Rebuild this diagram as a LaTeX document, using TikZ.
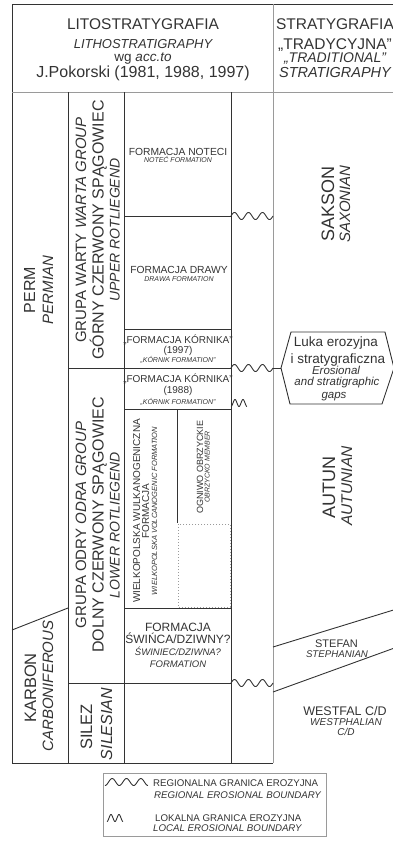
\documentclass[tikz,border=0pt]{standalone}
\usepackage{fontspec}
\setmainfont{Liberation Sans}
\definecolor{ink}{HTML}{333333}
\definecolor{lgray}{HTML}{9A9A9A}
\newcommand\fz[1]{\fontsize{#1}{#1}\selectfont}
\tikzset{
  tx/.style={inner sep=0pt, anchor=base, text=ink},
  rt/.style={tx, rotate=90},
  frame/.style={draw=ink, line width=0.9pt},
  thin/.style={draw=lgray, line width=0.9pt},
  wave/.style={draw=ink, line width=0.9pt},
  dotbox/.style={draw=lgray, line width=1pt, dotted},
}
\begin{document}
\begin{tikzpicture}[x=1pt,y=-1pt]
\useasboundingbox (0,0) rectangle (393,841);
% ---------- frame ----------
\draw[frame] (12,763) -- (12,4) -- (400,4);
\draw[thin] (12,92) -- (400,92);
\draw[thin] (273,4) -- (273,763);
\draw[frame] (68,92) -- (68,763);
\draw[frame] (124,92) -- (124,763);
\draw[frame] (231,92) -- (231,763);
\draw[frame] (12,763) -- (273,763);
% column 3 divisions
\draw[frame] (124,216) -- (231,216);
\draw[frame] (124,329) -- (231,329);
\draw[frame] (68,368) -- (231,368);
\draw[frame] (124,409) -- (231,409);
\draw[frame] (177,409) -- (177,523);
\draw[frame] (124,608) -- (231,608);
\draw[frame] (68,683) -- (231,683);
\draw[dotbox] (178,524) rectangle (230,607);
% period boundary
\draw[frame] (12,630) -- (68,608);
% stefan band
\draw[frame] (273,647) -- (400,608);
\draw[frame] (273,692) -- (400,646);
% ---------- waves ----------
\draw[wave] plot[domain=0:1, samples=80, smooth] ({231+42*\x},{216-3.5*sin(1080*\x)});
\draw[wave] plot[domain=0:1, samples=80, smooth] ({231+42*\x},{368-3.5*sin(1080*\x)});
\draw[wave] plot[domain=0:1, samples=80, smooth] ({231+42*\x},{683-3.5*sin(1080*\x)});
\draw[wave] plot[domain=0:1, samples=50, smooth] ({231+16*\x},{403+3.5*cos(720*\x)});
% ---------- Luka box ----------
\coordinate (wend) at (273,368);
\coordinate (lukaW) at (281,368);
\draw[frame] (lukaW) -- (291,332) -- (385,332) -- (394,368) -- (382,404) -- (290,404) -- cycle;
\draw[frame] (wend) -- (lukaW);
\node[tx,font=\fz{13.5}] (l1) at (336,346.7) {Luka erozyjna};
\node[tx,font=\fz{13.5}] (l2) at (338,363) {i stratygraficzna};
\node[tx,font=\fz{11.5}\itshape] (l3) at (336,374) {Erosional};
\node[tx,font=\fz{11.5}\itshape] (l4) at (337,385.5) {and stratigraphic};
\node[tx,font=\fz{11.5}\itshape] (l5) at (334,398) {gaps};
% ---------- header ----------
\node[tx,font=\fz{15.5}] (h1) at (143,29.3) {LITOSTRATYGRAFIA};
\node[tx,font=\fz{13}\itshape] (h2) at (143,48.5) {LITHOSTRATIGRAPHY};
\node[tx,font=\fz{13.5}] (h3) at (143,61.5) {wg \textit{acc.to}};
\node[tx,font=\fz{16}] (h4) at (143,77) {J.Pokorski (1981, 1988, 1997)};
\node[tx,font=\fz{15.5}] (r1) at (335,29.3) {STRATYGRAFIA};
\node[tx,font=\fz{15.5}] (r2) at (335,49) {„TRADYCYJNA”};
\node[tx,font=\fz{14}\itshape] (r3) at (335,62.7) {„TRADITIONAL”};
\node[tx,font=\fz{14.5}\itshape] (r4) at (335,77) {STRATIGRAPHY};
% ---------- column 1 ----------
\node[rt,font=\fz{16}] (perm) at (35,290) {PERM};
\node[rt,font=\fz{15}\itshape] (permian) at (53,290) {PERMIAN};
\node[rt,font=\fz{16.5}] (karbon) at (36,688) {KARBON};
\node[rt,font=\fz{15}\itshape] (carb) at (53,686) {CARBONIFEROUS};
% ---------- column 2 ----------
\node[rt,font=\fz{15}] (gw) at (86,230) {GRUPA WARTY \textit{WARTA GROUP}};
\node[rt,font=\fz{16}] (gc) at (103.5,230) {GÓRNY CZERWONY SPĄGOWIEC};
\node[rt,font=\fz{14}\itshape] (ur) at (119.5,230) {UPPER ROTLIEGEND};
\node[rt,font=\fz{15}] (go) at (86,525) {GRUPA ODRY \textit{ODRA GROUP}};
\node[rt,font=\fz{16}] (dc) at (103.5,525) {DOLNY CZERWONY SPĄGOWIEC};
\node[rt,font=\fz{14}\itshape] (lr) at (119.5,525) {LOWER ROTLIEGEND};
\node[rt,font=\fz{16.5}] (silez) at (92,727) {SILEZ};
\node[rt,font=\fz{16}\itshape] (silesian) at (112,724) {SILESIAN};
% ---------- column 3 ----------
\node[tx,font=\fz{10.3}] (n1) at (178,155.7) {FORMACJA NOTECI};
\node[tx,font=\fz{7}\itshape] (n2) at (178,162.7) {NOTEĆ FORMATION};
\node[tx,font=\fz{10.3}] (d1) at (179,273.3) {FORMACJA DRAWY};
\node[tx,font=\fz{7}\itshape] (d2) at (179,281.7) {DRAWA FORMATION};
\node[tx,font=\fz{10}] (k1) at (178,343.3) {„FORMACJA KÓRNIKA”};
\node[tx,font=\fz{10}] (k2) at (178,353.5) {(1997)};
\node[tx,font=\fz{7}\itshape] (k3) at (178,362.7) {„KÓRNIK FORMATION”};
\node[tx,font=\fz{10}] (k4) at (178,382.7) {„FORMACJA KÓRNIKA”};
\node[tx,font=\fz{10}] (k5) at (178,393) {(1988)};
\node[tx,font=\fz{7}\itshape] (k6) at (178,404) {„KÓRNIK FORMATION”};
\node[rt,font=\fz{10}] (w1) at (140,511) {WIELKOPOLSKA WULKANOGENICZNA};
\node[rt,font=\fz{10}] (w2) at (149,511) {FORMACJA};
\node[rt,font=\fz{7.5}\itshape] (w3) at (157,511) {WIELKOPOLSKA VOLCANOGENIC FORMATION};
\node[rt,font=\fz{9}] (o1) at (203,467) {OGNIWO OBRZYCKIE};
\node[rt,font=\fz{7}\itshape] (o2) at (209.5,467) {OBRZYCKO MEMBER};
\node[tx,font=\fz{12}] (s1) at (178,631.7) {FORMACJA};
\node[tx,font=\fz{12}] (s2) at (178,643.3) {ŚWIŃCA/DZIWNY?};
\node[tx,font=\fz{9.5}\itshape] (s3) at (178,655) {ŚWINIEC/DZIWNA?};
\node[tx,font=\fz{9.5}\itshape] (s4) at (178,667) {FORMATION};
% ---------- column 4 ----------
\node[rt,font=\fz{18}] (sakson) at (334,204) {SAKSON};
\node[rt,font=\fz{15}\itshape] (saxonian) at (350,204) {SAXONIAN};
\node[rt,font=\fz{18}] (autun) at (335,487) {AUTUN};
\node[rt,font=\fz{15.5}\itshape] (autunian) at (352,486) {AUTUNIAN};
\node[tx,font=\fz{11}] (st1) at (336.5,647) {STEFAN};
\node[tx,font=\fz{9.7}\itshape] (st2) at (337,657) {STEPHANIAN};
\node[tx,font=\fz{12.5}] (wf1) at (345,715) {WESTFAL C/D};
\node[tx,font=\fz{10}\itshape] (wf2) at (346,725) {WESTPHALIAN};
\node[tx,font=\fz{10}\itshape] (wf3) at (346,735) {C/D};
% ---------- legend ----------
\draw[draw=lgray, line width=0.9pt] (103,773) rectangle (326,836);
\draw[wave] plot[domain=0:1, samples=60, smooth] ({105+43*\x},{782+3.5*cos(1080*\x)});
\draw[wave] plot[domain=0:1, samples=40, smooth] ({107+16*\x},{818+3.5*cos(720*\x)});
\node[tx,font=\fz{9.7},anchor=base west] (lg1) at (153,786) {REGIONALNA GRANICA EROZYJNA};
\node[tx,font=\fz{9.7}\itshape,anchor=base west] (lg2) at (154,798) {REGIONAL EROSIONAL BOUNDARY};
\node[tx,font=\fz{9.7},anchor=base west] (lg3) at (155,821) {LOKALNA GRANICA EROZYJNA};
\node[tx,font=\fz{9.7}\itshape,anchor=base west] (lg4) at (153,831) {LOCAL EROSIONAL BOUNDARY};
\end{tikzpicture}
\end{document}
